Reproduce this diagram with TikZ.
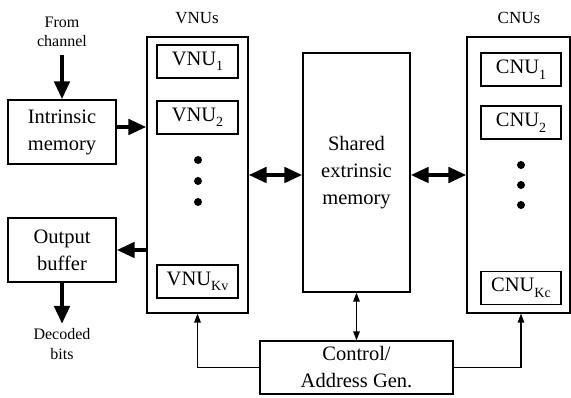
\documentclass[tikz,border=0pt]{standalone}
\usepackage{fontspec}
\setmainfont{Liberation Serif}
\usetikzlibrary{arrows.meta}

% subscript set low, as in the unit labels
\newcommand{\unitsub}[1]{\raisebox{-5.5pt}{\fontsize{14}{14}\selectfont #1}}

\begin{document}
\begin{tikzpicture}[x=1pt,y=-1pt,
  box/.style={draw, line width=1.2pt, inner sep=0pt, align=center,
              font=\fontsize{20.5}{27}\selectfont},
  outer/.style={draw, line width=1.1pt, inner sep=0pt},
  unit/.style={box, minimum width=81pt, minimum height=33pt},
  label/.style={align=center, inner sep=0pt, font=\fontsize{16}{19.5}\selectfont},
  bigarrow/.style={line width=4.5pt, -{Triangle[length=18pt,width=15pt]}},
  bigboth/.style={line width=4.5pt, {Triangle[length=18pt,width=15pt]}-{Triangle[length=18pt,width=15pt]}},
  thinarrow/.style={line width=1.2pt, -{Triangle[length=9pt,width=6.5pt]}},
  thinboth/.style={line width=1.2pt, {Triangle[length=9pt,width=6.5pt]}-{Triangle[length=9pt,width=6.5pt]}},
  dot/.style={circle, fill, inner sep=0pt, minimum size=8pt}
]
\useasboundingbox (0,0) rectangle (571,398);

% input / output blocks
\node[box, minimum width=108pt, minimum height=64pt] (intr) at (62,132) {Intrinsic\\memory};
\node[box, minimum width=108pt, minimum height=64pt] (outb) at (62,250) {Output\\buffer};
\node[label] (from) at (62,32) {From\\channel};
\node[label] (dec) at (62,344) {Decoded\\bits};
\coordinate (fromend) at (62,55);
\coordinate (decend) at (62,324);

% variable node units
\node[outer, minimum width=101pt, minimum height=276pt] (vnus) at (197.5,175) {};
\node[label, font=\fontsize{17}{19}\selectfont] (vnulbl) at (197,18) {VNUs};
\node[unit] (vnu1) at (197.5,61.5) {VNU\unitsub{1}};
\node[unit] (vnu2) at (197.5,117.5) {VNU\unitsub{2}};
\node[unit] (vnuk) at (197.5,281.5) {VNU\unitsub{Kv}};
\node[dot] (vd1) at (198,160) {};
\node[dot] (vd2) at (198,181) {};
\node[dot] (vd3) at (198,202) {};

% shared memory
\node[box, minimum width=107pt, minimum height=239pt] (shared) at (356.5,172.5) {Shared\\extrinsic\\memory};

% check node units
\node[outer, minimum width=103pt, minimum height=276pt] (cnus) at (518.5,175) {};
\node[label, font=\fontsize{17}{19}\selectfont] (cnulbl) at (519,18) {CNUs};
\node[unit, minimum width=80pt] (cnu1) at (521,69.5) {CNU\unitsub{1}};
\node[unit, minimum width=80pt] (cnu2) at (521,122.5) {CNU\unitsub{2}};
\node[unit, minimum width=80pt] (cnuk) at (521,288) {CNU\unitsub{Kc}};
\node[dot] (cd1) at (521,165) {};
\node[dot] (cd2) at (521,185) {};
\node[dot] (cd3) at (521,205) {};

% control
\node[box, minimum width=193pt, minimum height=53pt] (ctrl) at (356.5,367.5) {Control/\\Address Gen.};

% data paths
\draw[bigarrow] (fromend) -- (intr.north);
\draw[bigarrow] (intr.east |- 0,127) -- (vnus.west |- 0,127);
\draw[bigarrow] (vnus.west |- outb.east) -- (outb.east);
\draw[bigarrow] (outb.south) -- (decend);
\draw[bigboth] (vnus.east |- 0,175) -- (shared.west |- 0,175);
\draw[bigboth] (shared.east |- 0,175) -- (cnus.west |- 0,175);

% control paths
\draw[thinboth] (shared.south) -- (ctrl.north);
\draw[thinarrow] (ctrl.west) -| (vnus.south);
\draw[thinarrow] (ctrl.east) -| ([xshift=2.5pt]cnus.south);
\end{tikzpicture}
\end{document}
